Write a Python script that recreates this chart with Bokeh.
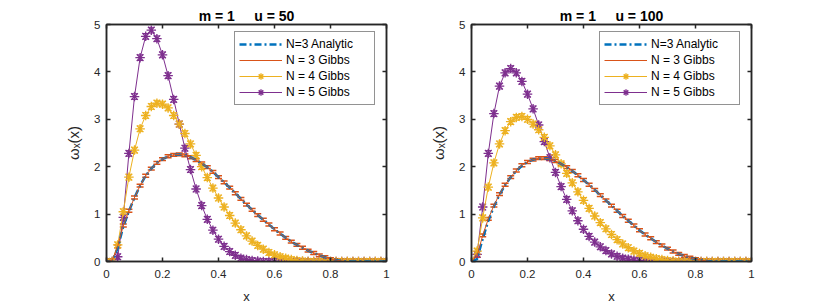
import math
from bokeh.plotting import figure
from bokeh.layouts import row
from bokeh.models import (LinearAxis, FixedTicker, CustomJSTickFormatter, Legend, LegendItem,
                          Whisker, TeeHead, ColumnDataSource, Range1d)
from bokeh.embed import file_html
from bokeh.resources import INLINE

x = [0.00, 0.02, 0.04, 0.06, 0.08, 0.10, 0.12, 0.14, 0.16, 0.18,
     0.20, 0.22, 0.24, 0.26, 0.28, 0.30, 0.32, 0.34, 0.36, 0.38,
     0.40, 0.42, 0.44, 0.46, 0.48, 0.50, 0.52, 0.54, 0.56, 0.58,
     0.60, 0.62, 0.64, 0.66, 0.68, 0.70, 0.72, 0.74, 0.76, 0.78,
     0.80, 0.82, 0.84, 0.86, 0.88, 0.90, 0.92, 0.94, 0.96, 0.98, 1.00]

titles = ["m = 1\u00a0\u00a0\u00a0\u00a0\u00a0u = 50", "m = 1\u00a0\u00a0\u00a0\u00a0\u00a0u = 100"]
series_labels = ["N=3 Analytic", "N = 3 Gibbs", "N = 4 Gibbs", "N = 5 Gibbs"]

# u = 50
l_analytic = [0, 0.0, 0.28, 0.74, 1.06, 1.35, 1.60, 1.81, 1.96, 2.08, 2.16, 2.22, 2.25, 2.26, 2.24, 2.20,
              2.14, 2.07, 1.99, 1.89, 1.78, 1.67, 1.56, 1.44, 1.32, 1.20, 1.09, 0.98, 0.88, 0.78,
              0.68, 0.59, 0.50, 0.42, 0.35, 0.29, 0.23, 0.18, 0.13, 0.09, 0.05, 0.03, 0.01,
              0, 0, 0, 0, 0, 0, 0, 0]
l_n3 = [0, 0.02, 0.32, 0.76, 1.07, 1.35, 1.60, 1.81, 1.96, 2.08, 2.16, 2.22, 2.25, 2.26, 2.24, 2.20,
        2.14, 2.07, 1.99, 1.89, 1.78, 1.67, 1.56, 1.44, 1.32, 1.20, 1.09, 0.98, 0.88, 0.78,
        0.68, 0.59, 0.50, 0.42, 0.35, 0.29, 0.23, 0.18, 0.13, 0.09, 0.05, 0.03, 0.01,
        0, 0, 0, 0, 0, 0, 0, 0]
l_n4 = [0, 0, 0.35, 1.05, 1.78, 2.35, 2.80, 3.08, 3.27, 3.34, 3.32, 3.24, 3.08, 2.90, 2.70, 2.48,
        2.24, 2.00, 1.77, 1.55, 1.34, 1.15, 0.97, 0.81, 0.67, 0.54, 0.43, 0.34, 0.26, 0.19,
        0.14, 0.10, 0.07, 0.04, 0.02, 0.01,
        0, 0, 0, 0, 0, 0, 0, 0, 0, 0, 0, 0, 0, 0, 0]
l_n5 = [0, 0, 0.10, 0.93, 2.28, 3.48, 4.30, 4.75, 4.88, 4.70, 4.36, 3.92, 3.42, 2.90, 2.39, 1.94,
        1.53, 1.18, 0.89, 0.66, 0.47, 0.32, 0.21, 0.13, 0.07, 0.04, 0.02, 0.01,
        0, 0, 0, 0, 0, 0, 0, 0, 0, 0, 0, 0, 0, 0, 0, 0, 0, 0, 0, 0, 0, 0, 0]

# u = 100
r_analytic = [0, 0.05, 0.48, 0.86, 1.16, 1.41, 1.61, 1.78, 1.91, 2.02, 2.10, 2.15, 2.17, 2.18, 2.16, 2.12,
              2.06, 1.99, 1.91, 1.82, 1.72, 1.62, 1.51, 1.40, 1.29, 1.18, 1.07, 0.96, 0.86, 0.76,
              0.66, 0.57, 0.49, 0.41, 0.34, 0.27, 0.21, 0.16, 0.12, 0.08, 0.05, 0.03, 0.01,
              0, 0, 0, 0, 0, 0, 0, 0]
r_n3 = [0, 0.12, 0.55, 0.90, 1.18, 1.42, 1.62, 1.78, 1.92, 2.03, 2.10, 2.15, 2.18, 2.18, 2.16, 2.12,
        2.06, 1.99, 1.91, 1.82, 1.72, 1.62, 1.51, 1.40, 1.29, 1.18, 1.07, 0.96, 0.86, 0.76,
        0.66, 0.57, 0.49, 0.41, 0.34, 0.27, 0.21, 0.16, 0.12, 0.08, 0.05, 0.03, 0.01,
        0, 0, 0, 0, 0, 0, 0, 0]
r_n4 = [0, 0.22, 0.92, 1.57, 2.08, 2.48, 2.76, 2.95, 3.04, 3.06, 3.00, 2.90, 2.78, 2.62, 2.44, 2.25,
        2.06, 1.86, 1.66, 1.47, 1.29, 1.12, 0.96, 0.82, 0.69, 0.57, 0.46, 0.37, 0.29, 0.22,
        0.17, 0.12, 0.09, 0.06, 0.04, 0.02, 0.01,
        0, 0, 0, 0, 0, 0, 0, 0, 0, 0, 0, 0, 0, 0]
r_n5 = [0, 0.15, 1.15, 2.28, 3.12, 3.70, 3.98, 4.07, 3.98, 3.80, 3.53, 3.22, 2.88, 2.53, 2.19, 1.88,
        1.58, 1.31, 1.07, 0.86, 0.68, 0.53, 0.41, 0.31, 0.23, 0.16, 0.11, 0.07, 0.05, 0.03,
        0.02, 0.01,
        0, 0, 0, 0, 0, 0, 0, 0, 0, 0, 0, 0, 0, 0, 0, 0, 0, 0, 0]

err_n3 = 0.03
err_n4 = 0.06
err_n5 = 0.06

x_ticks = [0, 0.2, 0.4, 0.6, 0.8, 1]
y_ticks = [0, 1, 2, 3, 4, 5]

BLUE = "#0072BD"
ORANGE = "#D95319"
YELLOW = "#EDB120"
PURPLE = "#7E2F8E"
AX = "#262626"
FONT = "Liberation Sans"

fmt = CustomJSTickFormatter(code="return (Math.round(tick*10)/10).toString();")
blank = CustomJSTickFormatter(code="return '';")


def style_axis(ax, labels=True):
    ax.axis_line_color = AX
    ax.axis_line_width = 1.5
    ax.major_tick_line_color = AX
    ax.major_tick_line_width = 1.5
    ax.major_tick_in = 4
    ax.major_tick_out = 0
    ax.minor_tick_line_color = None
    ax.major_label_text_font = FONT
    ax.major_label_text_font_size = "11.5px"
    ax.major_label_text_color = AX
    if not labels:
        ax.formatter = blank
        ax.major_label_standoff = 0


def panel(title, ya, y3, y4, y5, left_border, right_border, width):
    p = figure(width=width, height=306, output_backend="svg", toolbar_location=None,
               x_range=Range1d(0, 1), y_range=Range1d(0, 5),
               min_border_left=left_border, min_border_right=right_border,
               min_border_top=24, min_border_bottom=10)
    p.title.text = title
    p.title.align = "center"
    p.title.text_font = FONT
    p.title.text_font_size = "14px"
    p.title.text_font_style = "bold"
    p.title.text_color = "#000000"
    p.title.standoff = 1
    p.xgrid.visible = False
    p.ygrid.visible = False
    p.outline_line_color = AX
    p.outline_line_width = 1.5
    p.background_fill_color = "white"
    p.border_fill_color = "white"

    p.xaxis.ticker = FixedTicker(ticks=x_ticks)
    p.yaxis.ticker = FixedTicker(ticks=y_ticks)
    p.xaxis.formatter = fmt
    p.xaxis.axis_label = "x"
    p.yaxis.axis_label = "\u03c9\u2093(x)"
    for ax in (p.xaxis[0], p.yaxis[0]):
        style_axis(ax)
        ax.axis_label_text_font = FONT
        ax.axis_label_text_font_style = "normal"
        ax.axis_label_text_color = AX
    p.xaxis.axis_label_text_font_size = "13px"
    p.yaxis.axis_label_text_font_size = "15px"
    p.xaxis.axis_label_standoff = 8
    p.yaxis.axis_label_standoff = 9
    p.xaxis.major_label_standoff = 8
    p.yaxis.major_label_standoff = 6

    top = LinearAxis(ticker=FixedTicker(ticks=x_ticks))
    style_axis(top, labels=False)
    p.add_layout(top, "above")
    right = LinearAxis(ticker=FixedTicker(ticks=y_ticks))
    style_axis(right, labels=False)
    p.add_layout(right, "right")

    src = ColumnDataSource(dict(x=x, ya=ya, y3=y3, y4=y4, y5=y5,
                                l3=[v - err_n3 for v in y3], u3=[v + err_n3 for v in y3],
                                l4=[v - err_n4 for v in y4], u4=[v + err_n4 for v in y4],
                                l5=[v - err_n5 for v in y5], u5=[v + err_n5 for v in y5]))

    # N = 5
    r5 = p.line("x", "y5", source=src, line_color=PURPLE, line_width=1)
    w5 = Whisker(source=src, base="x", lower="l5", upper="u5", line_color=PURPLE, line_width=1,
                 upper_head=TeeHead(size=6, line_color=PURPLE, line_width=1),
                 lower_head=TeeHead(size=6, line_color=PURPLE, line_width=1))
    p.add_layout(w5)
    s5 = p.scatter("x", "y5", source=src, marker="asterisk", size=9.5, line_color=PURPLE, line_width=1.3)
    # N = 4
    r4 = p.line("x", "y4", source=src, line_color=YELLOW, line_width=1)
    w4 = Whisker(source=src, base="x", lower="l4", upper="u4", line_color=YELLOW, line_width=1,
                 upper_head=TeeHead(size=6, line_color=YELLOW, line_width=1),
                 lower_head=TeeHead(size=6, line_color=YELLOW, line_width=1))
    p.add_layout(w4)
    s4 = p.scatter("x", "y4", source=src, marker="asterisk", size=9.5, line_color=YELLOW, line_width=1.3)
    # analytic
    ra = p.line("x", "ya", source=src, line_color=BLUE, line_width=2.5, line_dash="7 3 2 3")
    # N = 3
    r3 = p.line("x", "y3", source=src, line_color=ORANGE, line_width=1)
    w3 = Whisker(source=src, base="x", lower="l3", upper="u3", line_color=ORANGE, line_width=1,
                 upper_head=TeeHead(size=7, line_color=ORANGE, line_width=1.5),
                 lower_head=TeeHead(size=7, line_color=ORANGE, line_width=1.5))
    p.add_layout(w3)

    # legend-only error-bar glyphs (empty data)
    e3 = p.scatter(x=[], y=[], marker="dash", angle=math.pi / 2, size=13, line_color=ORANGE, line_width=1)
    e4 = p.scatter(x=[], y=[], marker="dash", angle=math.pi / 2, size=13, line_color=YELLOW, line_width=1)
    e5 = p.scatter(x=[], y=[], marker="dash", angle=math.pi / 2, size=13, line_color=PURPLE, line_width=1)

    legend = Legend(items=[
        LegendItem(label=series_labels[0], renderers=[ra]),
        LegendItem(label=series_labels[1], renderers=[r3, e3]),
        LegendItem(label=series_labels[2], renderers=[r4, e4, s4]),
        LegendItem(label=series_labels[3], renderers=[r5, e5, s5]),
    ], location=(128, 156))
    legend.margin = 0
    legend.padding = 4
    legend.spacing = 0
    legend.glyph_width = 43
    legend.glyph_height = 16
    legend.label_height = 16
    legend.label_width = 84
    legend.label_standoff = 4
    legend.label_text_font = FONT
    legend.label_text_font_size = "12px"
    legend.label_text_color = "#000000"
    legend.border_line_color = AX
    legend.border_line_width = 1.5
    legend.background_fill_color = "white"
    legend.background_fill_alpha = 1
    p.add_layout(legend)
    return p


p1 = panel(titles[0], l_analytic, l_n3, l_n4, l_n5, 106, 24, 410)
p2 = panel(titles[1], r_analytic, r_n3, r_n4, r_n5, 61, 51, 392)
layout = row(p1, p2, spacing=0)

open("out.html", "w").write(file_html(layout, INLINE))
